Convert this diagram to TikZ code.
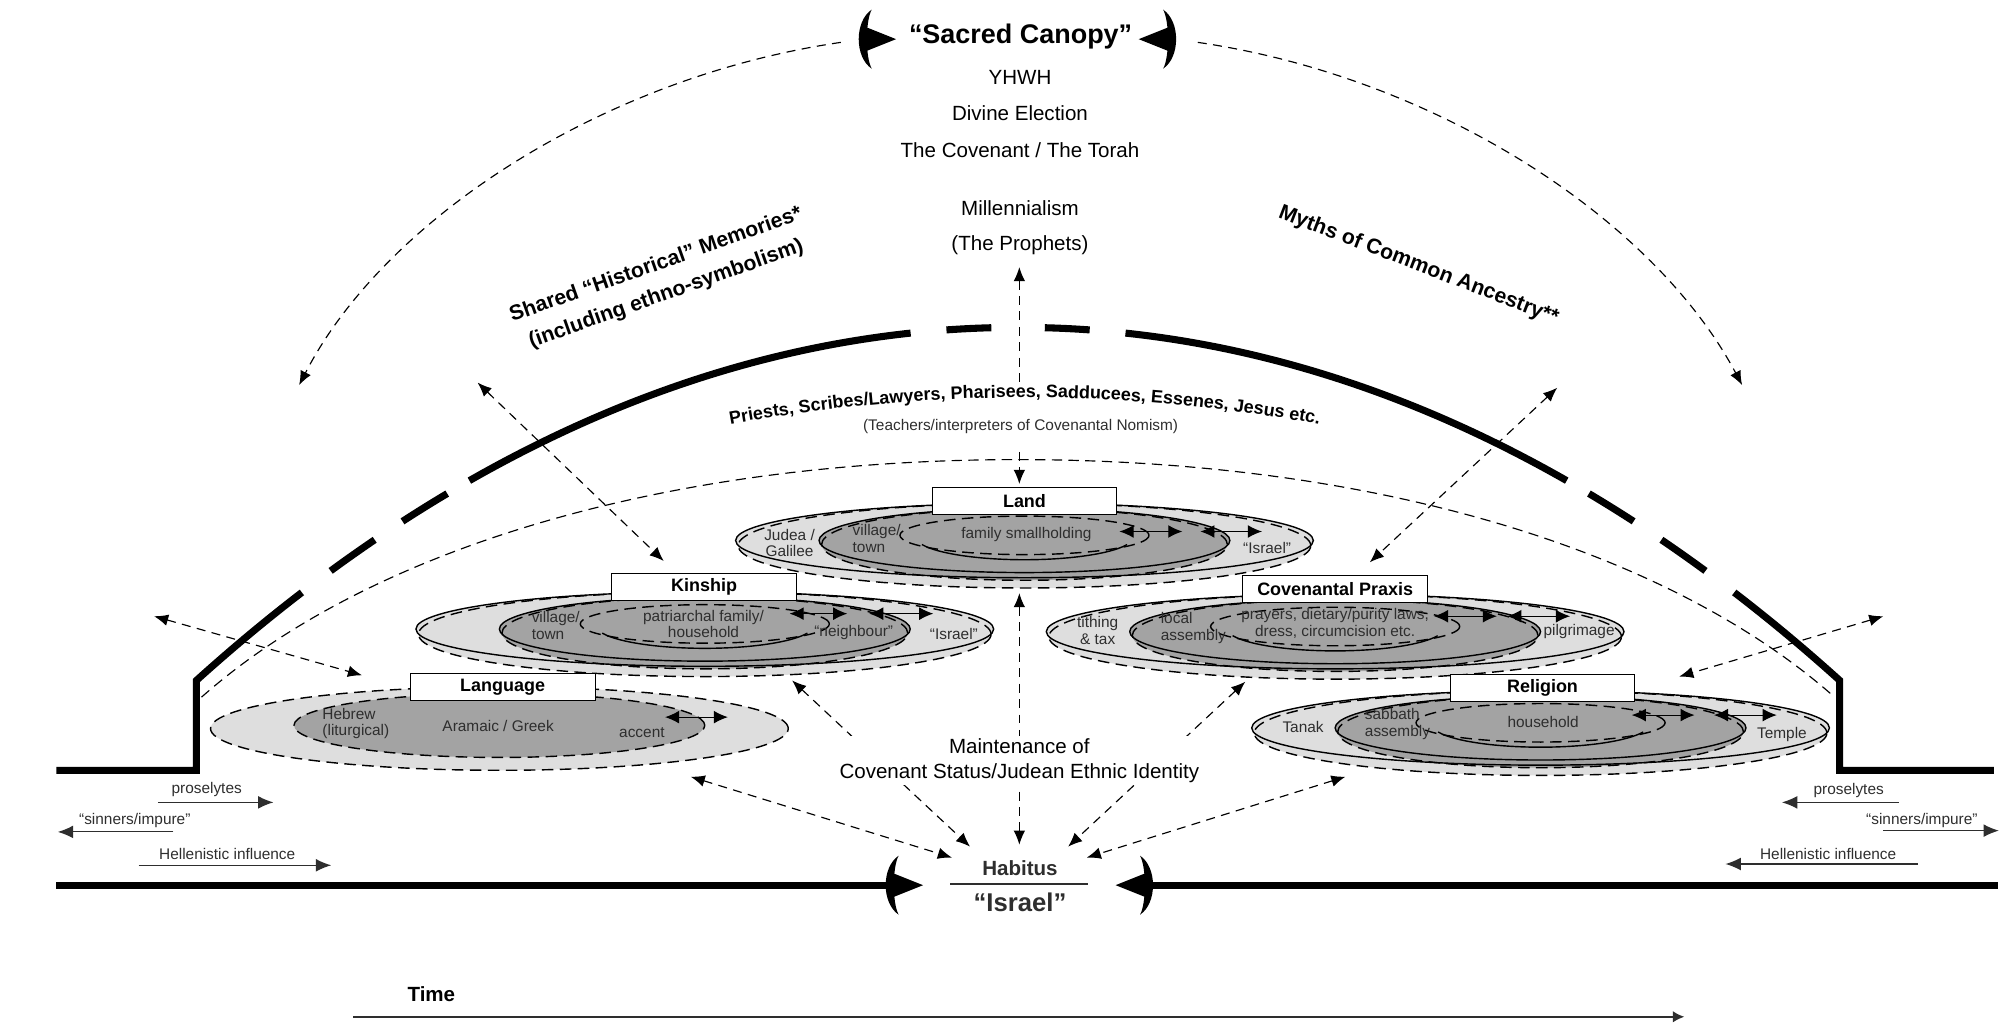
\documentclass[tikz,border=0pt]{standalone}
\usepackage{fontspec}
\setmainfont{Liberation Sans}
\usetikzlibrary{arrows.meta,decorations.text}
\definecolor{lightg}{gray}{0.87}
\definecolor{darkg}{gray}{0.64}
\definecolor{tg}{gray}{0.18}
\newcommand\fsz[1]{\fontsize{#1}{#1}\selectfont}
\newcommand\fszb[2]{\fontsize{#1}{#2}\selectfont}
\newcommand\priestfont{\fontsize{14}{14}\selectfont\bfseries}
\tikzset{
 thk/.style={line width=5.5pt, line join=miter},
 eline/.style={line width=1.1pt, black},
 edash/.style={dash pattern=on 9pt off 5pt},
 dconn/.style={line width=0.9pt, dash pattern=on 7pt off 5pt, {Latex[length=11pt,width=9pt]}-{Latex[length=11pt,width=9pt]}},
 dconnend/.style={line width=0.9pt, dash pattern=on 7pt off 5pt, -{Latex[length=11pt,width=9pt]}},
 sarr/.style={line width=0.9pt, tg, -{Latex[length=12pt,width=10pt]}},
 dbl/.style={line width=0.9pt, black, {Latex[length=11pt,width=10pt]}-{Latex[length=11pt,width=10pt]}},
 boxs/.style={draw, line width=0.8pt, fill=white, minimum width=144pt, minimum height=21pt, inner sep=0pt, font=\fsz{14}\bfseries},
 lbl/.style={font=\fszb{12}{13}, text=tg, inner sep=0pt},
 big/.style={font=\fszb{16}{19}, inner sep=1pt},
}
\newcommand\brk[3]{%
 \begin{scope}[shift={(#1,#2)},xscale=#3]
  \fill (9,-23) .. controls (-4.5,-14) and (-4.5,14) .. (9,23) .. controls (4,14) and (4,-14) .. (9,-23) -- cycle;
  \fill (3,-10) -- (28,0) -- (3,10) -- cycle;
 \end{scope}}
\newcommand\ellgrp[2]{%
 \begin{scope}[shift={(#1,#2)}]
  \fill[lightg] (0,0) ellipse[x radius=225pt, y radius=29pt];
  \fill[lightg] (0,4) ellipse[x radius=223pt, y radius=33pt];
  \fill[darkg] (0,0) ellipse[x radius=160pt, y radius=25pt];
  \fill[darkg] (0,3) ellipse[x radius=158pt, y radius=28pt];
  \draw[eline] (0,0) ellipse[x radius=225pt, y radius=29pt];
  \draw[eline,edash] (0,4) ellipse[x radius=223pt, y radius=33pt];
  \draw[eline] (0,0) ellipse[x radius=160pt, y radius=25pt];
  \draw[eline,edash] (0,3) ellipse[x radius=158pt, y radius=28pt];
  \draw[eline,edash] (0,-4) ellipse[x radius=97pt, y radius=15pt];
  \draw[eline] (0,-3) ++(200:85pt and 18pt) arc[start angle=200, end angle=340, x radius=85pt, y radius=18pt];
 \end{scope}}
\begin{document}
\begin{tikzpicture}[x=1pt,y=-1pt]
\useasboundingbox (0,0) rectangle (1568,797);

% thin dashed dome
\coordinate (thinL) at (157,543);
\coordinate (thinT) at (793,358);
\coordinate (thinR) at (1429,543);
\draw[line width=0.9pt, dash pattern=on 8pt off 5pt] (thinL) .. controls (287,428) and (517,358) .. (thinT) .. controls (1069,358) and (1299,428) .. (thinR);

% thick dome
\coordinate (wl0) at (44,600);
\coordinate (wl1) at (153,600);
\coordinate (wl2) at (153,530);
\coordinate (wtop) at (793,255);
\coordinate (wr0) at (1553,600);
\coordinate (wr1) at (1433,600);
\coordinate (wr2) at (1433,530);
\draw[thk, dash pattern=on 286pt off 28pt on 42pt off 26pt on 41pt off 20pt on 365pt off 28pt on 35pt off 60pt]
  (wl0) -- (wl1) -- (wl2) .. controls (297,400) and (517,255) .. (wtop);
\draw[thk, dash pattern=on 297pt off 28pt on 42pt off 26pt on 41pt off 20pt on 365pt off 28pt on 35pt off 60pt]
  (wr0) -- (wr1) -- (wr2) .. controls (1289,400) and (1069,255) .. (wtop);

% bottom thick line with brackets
\coordinate (bl0) at (44,689.5);
\coordinate (bl1) at (694,689.5);
\coordinate (br0) at (1556,689.5);
\coordinate (br1) at (894,689.5);
\draw[thk] (bl0) -- (bl1);
\draw[thk] (br0) -- (br1);
\brk{691}{689.5}{1}
\brk{897}{689.5}{-1}
\brk{670}{30.5}{1}
\brk{915}{30.5}{-1}

% ellipse groups
\ellgrp{798}{421}
\ellgrp{549}{490}
\ellgrp{1040}{492}
\ellgrp{1200}{567}
\begin{scope}[shift={(389,567)}]
 \fill[lightg] (0,0.5) ellipse[x radius=225pt, y radius=32.5pt];
 \fill[darkg] (0,-2) ellipse[x radius=160pt, y radius=25pt];
 \draw[eline,edash] (0,0.5) ellipse[x radius=225pt, y radius=32.5pt];
 \draw[eline,edash] (0,-2) ellipse[x radius=160pt, y radius=25pt];
\end{scope}

% boxes
\node[boxs] (landbox) at (798,390.5) {Land};
\node[boxs] (kinbox) at (548.5,457.5) {Kinship};
\node[boxs] (langbox) at (391.5,535) {Language};
\node[boxs] (covbox) at (1040,459) {Covenantal Praxis};
\node[boxs] (relbox) at (1201.5,536) {Religion};

% Land labels
\node[lbl, align=center] (judea) at (615,423) {Judea /\\Galilee};
\node[lbl, align=left, anchor=west] (lvill) at (664,419.5) {village/\\town};
\node[lbl] (lfam) at (799.5,416.5) {family smallholding};
\node[lbl] (lisr) at (987,427) {“Israel”};
\coordinate (la1) at (872,414); \coordinate (la2) at (921,414);
\coordinate (la3) at (935,414); \coordinate (la4) at (983,414);
\draw[dbl] (la1) -- (la2);
\draw[dbl] (la3) -- (la4);

% Kinship labels
\node[lbl, align=left, anchor=west] (kvill) at (414,487) {village/\\town};
\node[lbl, align=center] (kfam) at (548,486) {patriarchal family/\\household};
\node[lbl] (kneigh) at (665,493) {“neighbour”};
\node[lbl] (kisr) at (743,494) {“Israel”};
\coordinate (ka1) at (615,478); \coordinate (ka2) at (660,478);
\coordinate (ka3) at (677,478); \coordinate (ka4) at (727,478);
\draw[dbl] (ka1) -- (ka2);
\draw[dbl] (ka3) -- (ka4);

% Language labels
\node[lbl, align=left, anchor=west] (heb) at (251,563.5) {Hebrew\\(liturgical)};
\node[lbl] (aram) at (388,565.5) {Aramaic / Greek};
\node[lbl] (accent) at (500,571) {accent};
\coordinate (ga1) at (518,558.6); \coordinate (ga2) at (567,558.6);
\draw[dbl] (ga1) -- (ga2);

% Covenantal labels
\node[lbl, align=center] (tith) at (855,491) {tithing\\\& tax};
\node[lbl, align=left, anchor=west] (local) at (904,489) {local\\assembly};
\node[lbl, align=center] (pray) at (1040,485.5) {prayers, dietary/purity laws,\\dress, circumcision etc.};
\node[lbl] (pilg) at (1230,492) {pilgrimage};
\coordinate (ca1) at (1117,480); \coordinate (ca2) at (1166,480);
\coordinate (ca3) at (1174,480); \coordinate (ca4) at (1223,480);
\draw[dbl] (ca1) -- (ca2);
\draw[dbl] (ca3) -- (ca4);

% Religion labels
\node[lbl] (tanak) at (1015,566) {Tanak};
\node[lbl, align=left, anchor=west] (sabb) at (1063,564) {sabbath\\assembly};
\node[lbl] (house) at (1202,562) {household};
\node[lbl] (temple) at (1388,572.5) {Temple};
\coordinate (ra1) at (1271,557); \coordinate (ra2) at (1320,557);
\coordinate (ra3) at (1335,557); \coordinate (ra4) at (1384,557);
\draw[dbl] (ra1) -- (ra2);
\draw[dbl] (ra3) -- (ra4);

% top texts
\node[font=\fsz{21}\bfseries, inner sep=0pt] (canopy) at (795,28.5) {“Sacred Canopy”};
\node[big] (yhwh) at (794.5,60) {YHWH};
\node[big] (elect) at (794.5,88) {Divine Election};
\node[big] (coven) at (794.5,117) {The Covenant / The Torah};
\node[big] (mill) at (794.5,162) {Millennialism};
\node[big] (proph) at (794.5,191) {(The Prophets)};

% rotated titles
\node[font=\fszb{16.5}{24}\bfseries, align=center, rotate=19.5, inner sep=0pt] (shared) at (515,218) {Shared “Historical” Memories*\\(including ethno-symbolism)};
\node[font=\fsz{16.5}\bfseries, rotate=-21, inner sep=0pt] (myths) at (1105,207) {Myths of Common Ancestry**};

% priests along arc
\path[decorate, decoration={text along path, text align=center, text={|\priestfont|Priests, Scribes/Lawyers, Pharisees, Sadducees, Essenes, Jesus etc.}}]
  (540,336) .. controls (712,301) and (884,301) .. (1056,336);
\node[font=\fsz{12}, text=tg, inner sep=0pt] (teach) at (795,332) {(Teachers/interpreters of Covenantal Nomism)};

% canopy curves
\coordinate (cvL0) at (655,33); \coordinate (cvL1) at (233,300);
\coordinate (cvR0) at (933,33); \coordinate (cvR1) at (1357,300);
\draw[dconnend] (cvL0) .. controls (470,60) and (300,170) .. (cvL1);
\draw[dconnend] (cvR0) .. controls (1118,60) and (1288,170) .. (cvR1);

% vertical upper arrow (broken by text)
\coordinate (vu0) at (794,208); \coordinate (vu1) at (794,300);
\coordinate (vu2) at (794,352); \coordinate (vu3) at (794,377);
\draw[line width=0.9pt, dash pattern=on 7pt off 5pt, {Latex[length=11pt,width=9pt]}-] (vu0) -- (vu1);
\draw[line width=0.9pt, dash pattern=on 7pt off 5pt, -{Latex[length=11pt,width=9pt]}] (vu2) -- (vu3);

% diagonal connectors
\coordinate (d1a) at (372,298); \coordinate (d1b) at (517,437);
\coordinate (d2a) at (1213,302); \coordinate (d2b) at (1067,438);
\coordinate (d3a) at (120,480); \coordinate (d3b) at (282,526);
\coordinate (d4a) at (1467,480); \coordinate (d4b) at (1308,527);
\draw[dconn] (d1a) -- (d1b);
\draw[dconn] (d2a) -- (d2b);
\draw[dconn] (d3a) -- (d3b);
\draw[dconn] (d4a) -- (d4b);

% lower connectors to Habitus
\coordinate (h1a) at (538,605); \coordinate (h1b) at (741.5,668);
\coordinate (h2a) at (617,530); \coordinate (h2b) at (755.6,659.5);
\coordinate (h3a) at (794,462); \coordinate (h3b) at (794,658);
\coordinate (h4a) at (970,531); \coordinate (h4b) at (832,659.5);
\coordinate (h5a) at (1048,605); \coordinate (h5b) at (846.5,668);
\draw[dconn] (h1a) -- (h1b);
\draw[dconn] (h2a) -- (h2b);
\draw[dconn] (h3a) -- (h3b);
\draw[dconn] (h4a) -- (h4b);
\draw[dconn] (h5a) -- (h5b);

\node[font=\fszb{16}{19}, align=center, fill=white, inner sep=2pt] (maint) at (794,592.5) {Maintenance of\\Covenant Status/Judean Ethnic Identity};

% Habitus
\node[font=\fsz{16}\bfseries, text=tg, inner sep=0pt] (habitus) at (794.5,676) {Habitus};
\coordinate (hr1) at (740,688.6); \coordinate (hr2) at (847.5,688.6);
\draw[line width=1pt, tg] (hr1) -- (hr2);
\node[font=\fsz{20}\bfseries, text=tg, inner sep=0pt] (israel) at (794.5,703) {“Israel”};

% side flows
\node[lbl] (pros1) at (161,615) {proselytes};
\node[lbl] (sin1) at (105,639.5) {“sinners/impure”};
\node[lbl] (hel1) at (177,665) {Hellenistic influence};
\coordinate (p1a) at (123,625); \coordinate (p1b) at (213,625);
\coordinate (s1a) at (135,648); \coordinate (s1b) at (45,648);
\coordinate (e1a) at (108,674); \coordinate (e1b) at (258,674);
\draw[sarr] (p1a) -- (p1b);
\draw[sarr] (s1a) -- (s1b);
\draw[sarr] (e1a) -- (e1b);
\node[lbl] (pros2) at (1440,616) {proselytes};
\node[lbl] (sin2) at (1497,639.5) {“sinners/impure”};
\node[lbl] (hel2) at (1424,665) {Hellenistic influence};
\coordinate (p2a) at (1479,625); \coordinate (p2b) at (1388,625);
\coordinate (s2a) at (1467,647); \coordinate (s2b) at (1557,647);
\coordinate (e2a) at (1494,673); \coordinate (e2b) at (1344,673);
\draw[sarr] (p2a) -- (p2b);
\draw[sarr] (s2a) -- (s2b);
\draw[sarr] (e2a) -- (e2b);

% time
\node[font=\fsz{16}\bfseries, inner sep=0pt] (time) at (336,774) {Time};
\coordinate (t0) at (275,792); \coordinate (t1) at (1312,792);
\draw[line width=1.4pt, tg, -{Latex[length=9pt,width=9pt]}] (t0) -- (t1);
\end{tikzpicture}
\end{document}
